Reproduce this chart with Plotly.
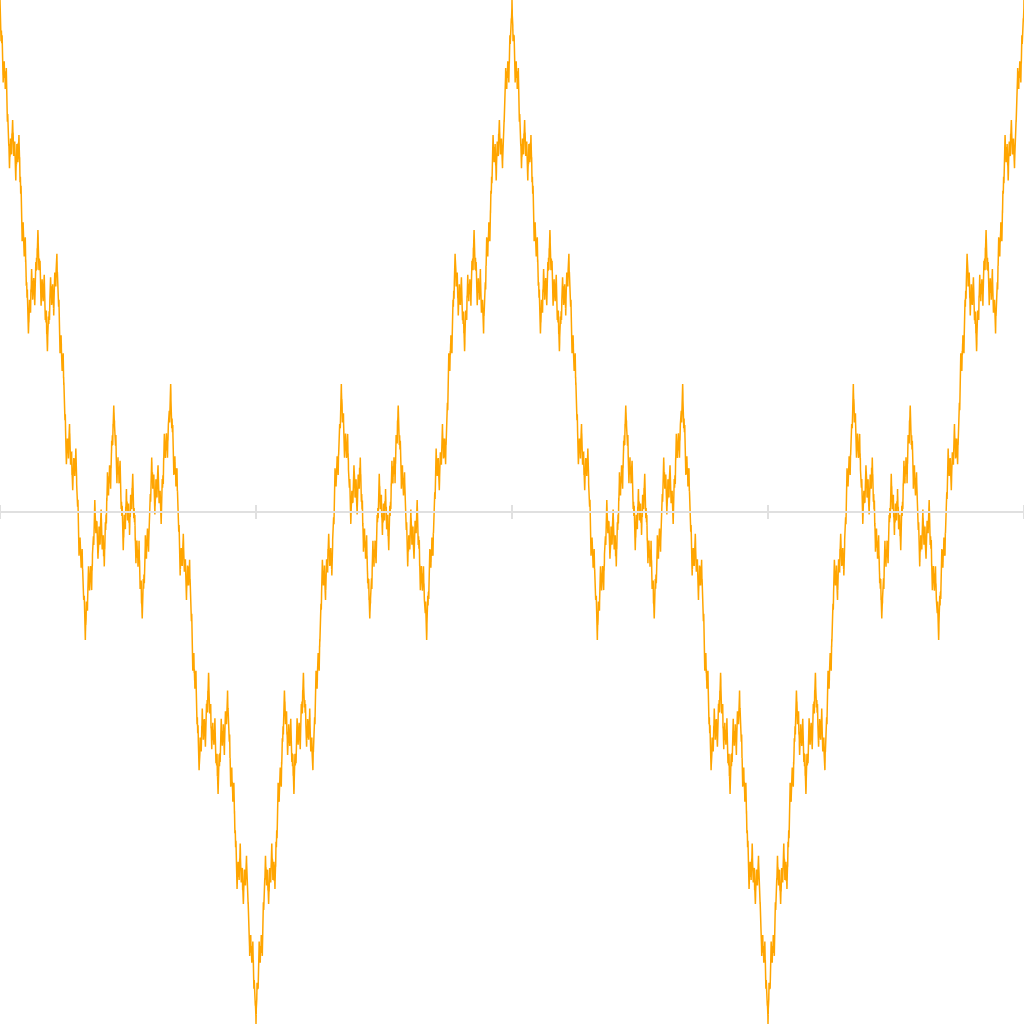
import numpy as np
import plotly.graph_objects as go

# Weierstrass-type curve: dominant cosine with period 2
# (peaks at x=0,2,4; troughs at x=1,3), sub-features at 1/3 spacing, each
# level half the amplitude of the previous one.
term_amplitudes = [1.0, 0.5, 0.25, 0.125, 0.0625, 0.03125, 0.015625,
                   0.0078125, 0.00390625, 0.001953125, 0.0009765625, 0.00048828125]
term_frequencies = [1, 3, 9, 27, 81, 243, 729, 2187, 6561, 19683, 59049, 177147]
x_start, x_end, n_samples = 0.0, 4.0, 30001
tick_values = [0, 1, 2, 3, 4]

x = np.linspace(x_start, x_end, n_samples)
y = np.zeros_like(x)
for amp, freq in zip(term_amplitudes, term_frequencies):
    y += amp * np.cos(freq * np.pi * x)

fig = go.Figure()
fig.add_trace(go.Scatter(x=x, y=y, mode="lines",
                         line=dict(color="#FFA500", width=1.5),
                         hoverinfo="skip", showlegend=False, cliponaxis=False))
# invisible trace to activate the second (overlaying) x-axis
fig.add_trace(go.Scatter(x=[x_start, x_end], y=[0, 0], mode="lines",
                         line=dict(width=0), xaxis="x2", showlegend=False,
                         hoverinfo="skip"))

ymax = float(np.max(np.abs(y)))
axis_common = dict(range=[x_start, x_end], showgrid=False, zeroline=False,
                   showticklabels=False, tickvals=tick_values,
                   showline=True, linecolor="#e0e0e0", linewidth=2,
                   tickcolor="#e0e0e0", tickwidth=2, ticklen=6,
                   anchor="free", position=0.5, automargin=False)
fig.update_layout(
    width=1024, height=1024,
    margin=dict(l=0, r=0, t=0, b=0, pad=0, autoexpand=False),
    paper_bgcolor="white", plot_bgcolor="white",
    xaxis=dict(**axis_common, ticks="outside", side="bottom"),
    xaxis2=dict(**axis_common, ticks="outside", side="top", overlaying="x"),
    yaxis=dict(range=[-ymax, ymax], visible=False, showgrid=False,
               zeroline=False, automargin=False),
    showlegend=False,
)
fig.write_html("out.html",
               config={"displayModeBar": False},
               post_script="document.body.style.margin='0';"
                           "document.body.style.overflow='hidden';")
